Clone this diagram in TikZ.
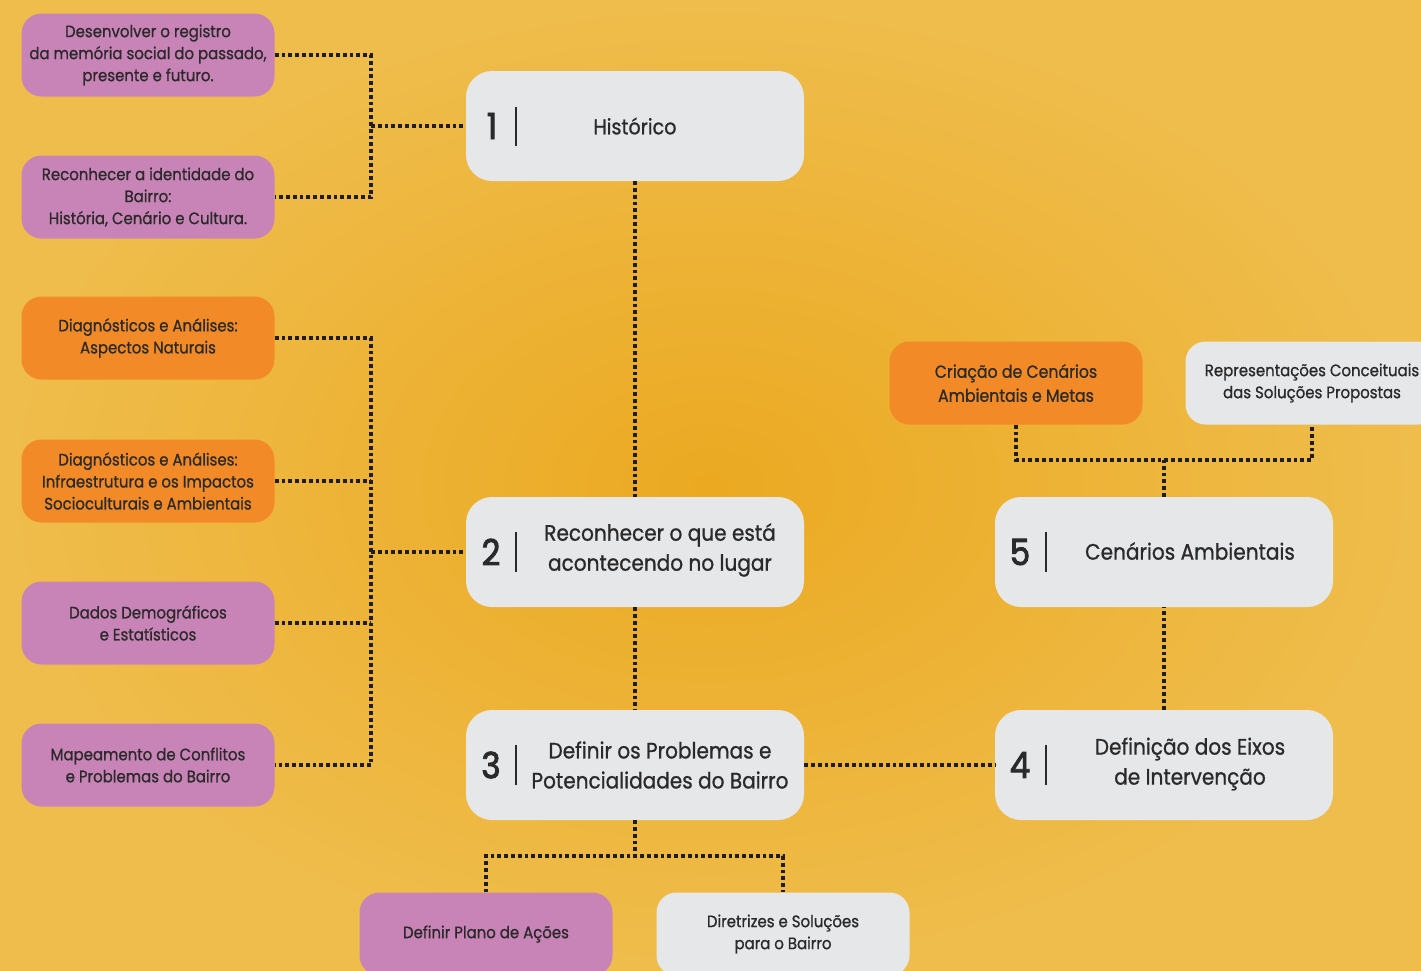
\documentclass[tikz,border=0pt]{standalone}
\usepackage{fontspec}
\setmainfont{Poppins}[FakeStretch=0.9,FakeBold=0.9]
\newfontfamily\numfont{Poppins}[FakeStretch=0.9,FakeBold=2.6]
\definecolor{pinkbox}{HTML}{C984B7}
\definecolor{orangebox}{HTML}{F28B27}
\definecolor{greybox}{HTML}{E6E7E9}
\definecolor{ink}{HTML}{2A2A2A}
\definecolor{dotc}{HTML}{1E1E1E}
\definecolor{bgin}{HTML}{EBA921}
\definecolor{bgout}{HTML}{EFBD4C}
\begin{document}
\begin{tikzpicture}[x=1pt,y=-1pt,
  sbox/.style={rounded corners=20pt, minimum width=253pt, minimum height=83pt, inner sep=0pt, align=center, font=\fontsize{16.6}{22}\selectfont, text=ink},
  pinkb/.style={sbox, fill=pinkbox},
  orangeb/.style={sbox, fill=orangebox},
  greyb/.style={sbox, fill=greybox},
  mbox/.style={fill=greybox, rounded corners=26pt, minimum width=338pt, minimum height=110pt, inner sep=0pt},
  conn/.style={draw=dotc, line width=3.5pt, dash pattern=on 3.8pt off 3pt},
  num/.style={font=\numfont\fontsize{36}{36}\selectfont, text=ink, inner sep=0pt},
  mtext/.style={font=\fontsize{22.3}{30}\selectfont, align=center, text=ink, inner sep=0pt},
  bar/.style={draw=ink, line width=1.6pt}]
\useasboundingbox (0,0) rectangle (1421,970);
\clip (0,0) rectangle (1421,970);
\shade[inner color=bgin, outer color=bgout] (0,0) rectangle (1421,970);

% left column
\node[pinkb] (b1) at (148,55) {Desenvolver o registro\\da memória social do passado,\\presente e futuro.};
\node[pinkb] (b2) at (148,197) {Reconhecer a identidade do\\Bairro:\\História, Cenário e Cultura.};
\node[orangeb] (b3) at (148,338) {Diagnósticos e Análises:\\Aspectos Naturais};
\node[orangeb] (b4) at (148,481) {Diagnósticos e Análises:\\Infraestrutura e os Impactos\\Socioculturais e Ambientais};
\node[pinkb] (b5) at (148,623) {Dados Demográficos\\e Estatísticos};
\node[pinkb] (b6) at (148,765) {Mapeamento de Conflitos\\e Problemas do Bairro};

% main boxes
\node[mbox] (h1) at (635,126) {};
\node[num] (h1n) at (492,126) {1};
\draw[bar] (516,107) -- (516,146);
\node[mtext, font=\fontsize{21.3}{30}\selectfont] (h1t) at (635,126) {Histórico};

\node[mbox] (h2) at (635,552) {};
\node[num] (h2n) at (491,552) {2};
\draw[bar] (516,532) -- (516,572);
\node[mtext] (h2t) at (660,550) {Reconhecer o que está\\acontecendo no lugar};

\node[mbox] (h3) at (635,765) {};
\node[num] (h3n) at (491,765) {3};
\draw[bar] (516,745) -- (516,785);
\node[mtext] (h3t) at (660,765) {Definir os Problemas e\\Potencialidades do Bairro};

\node[mbox] (h5) at (1164,552) {};
\node[num] (h5n) at (1020,552) {5};
\draw[bar] (1046,532) -- (1046,572);
\node[mtext] (h5t) at (1190,551) {Cenários Ambientais};

\node[mbox] (h4) at (1164,765) {};
\node[num] (h4n) at (1020,765) {4};
\draw[bar] (1046,745) -- (1046,785);
\node[mtext] (h4t) at (1190,764) {Definição dos Eixos\\de Intervenção};

% right top
\node[orangeb, font=\fontsize{17.5}{24}\selectfont] (c1) at (1016,383) {Criação de Cenários\\Ambientais e Metas};
\node[greyb] (c2) at (1312,383) {Representações Conceituais\\das Soluções Propostas};

% bottom
\node[pinkb] (d1) at (486,934) {Definir Plano de Ações};
\node[greyb] (d2) at (783,934) {Diretrizes e Soluções\\para o Bairro};

% connectors
\coordinate (jA) at (371,126);
\draw[conn] (b1.east) -| (jA) |- (b2.east);
\draw[conn] (jA) -- (h1.west);

\coordinate (jB) at (371,552);
\draw[conn] (b3.east) -| (jB) |- (b6.east);
\draw[conn] (b4.east) -- (b4.east -| jB);
\draw[conn] (b5.east) -- (b5.east -| jB);
\draw[conn] (jB) -- (h2.west);

\draw[conn] (h1.south) -- (h2.north);
\draw[conn] (h2.south) -- (h3.north);
\draw[conn] (h3.east) -- (h4.west);
\draw[conn] (h4.north) -- (h5.south);

\coordinate (jC) at (1164,460);
\draw[conn] (h5.north) -- (jC);
\draw[conn] (c1.south) |- (jC) -| (c2.south);

\coordinate (jD) at (635,856);
\draw[conn] (h3.south) -- (jD);
\draw[conn] (d1.north) |- (jD) -| (d2.north);
\end{tikzpicture}
\end{document}
